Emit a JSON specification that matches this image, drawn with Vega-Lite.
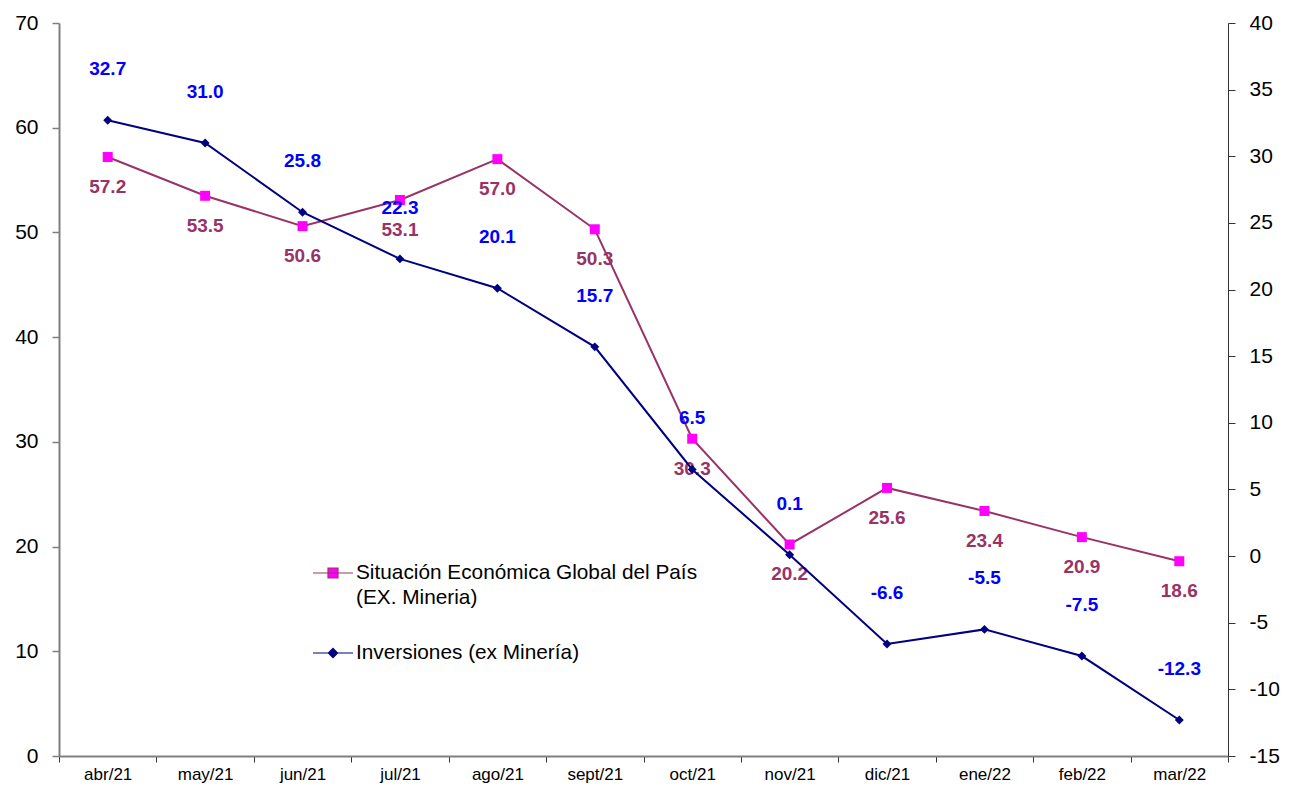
{
  "$schema": "https://vega.github.io/schema/vega-lite/v6.json",
  "width": 1169,
  "height": 733,
  "autosize": {"type": "none"},
  "padding": {"left": 59, "top": 23, "right": 67, "bottom": 33},
  "background": "white",
  "config": {
    "view": {"stroke": null},
    "font": "Liberation Sans",
    "locale": {"number": {"decimal": ".", "thousands": ",", "grouping": [3], "currency": ["$", ""], "minus": "-"}},
    "axis": {"labelFont": "Liberation Sans", "labelColor": "#000000", "title": null, "grid": false}
  },
  "data": {
    "values": [
      {"mes": "abr/21", "sit": 57.2, "inv": 32.7},
      {"mes": "may/21", "sit": 53.5, "inv": 31.0},
      {"mes": "jun/21", "sit": 50.6, "inv": 25.8},
      {"mes": "jul/21", "sit": 53.1, "inv": 22.3},
      {"mes": "ago/21", "sit": 57.0, "inv": 20.1},
      {"mes": "sept/21", "sit": 50.3, "inv": 15.7},
      {"mes": "oct/21", "sit": 30.3, "inv": 6.5},
      {"mes": "nov/21", "sit": 20.2, "inv": 0.1},
      {"mes": "dic/21", "sit": 25.6, "inv": -6.6},
      {"mes": "ene/22", "sit": 23.4, "inv": -5.5},
      {"mes": "feb/22", "sit": 20.9, "inv": -7.5},
      {"mes": "mar/22", "sit": 18.6, "inv": -12.3}
    ]
  },
  "encoding": {
    "x": {
      "field": "mes",
      "type": "nominal",
      "sort": null,
      "scale": {"paddingInner": 0, "paddingOuter": 0},
      "axis": {
        "tickBand": "extent",
        "labelAngle": 0,
        "labelFontSize": 17,
        "labelPadding": 4,
        "tickSize": 6,
        "tickColor": "#333333",
        "domainColor": "#808080",
        "domainWidth": 2,
        "labelColor": "#000000"
      }
    }
  },
  "layer": [
    {
      "layer": [
        {
          "mark": {"type": "line", "strokeWidth": 2},
          "encoding": {
            "y": {
              "field": "sit",
              "type": "quantitative",
              "scale": {"domain": [0, 70], "nice": false, "zero": false},
              "axis": {
                "orient": "left",
                "values": [0, 10, 20, 30, 40, 50, 60, 70],
                "labelFontSize": 21,
                "tickSize": 7,
                "labelPadding": 14,
                "domainColor": "#808080",
                "domainWidth": 2,
                "tickColor": "#808080",
                "tickWidth": 1.5
              }
            },
            "stroke": {
              "datum": "Situación Económica Global del País (EX. Mineria)",
              "type": "nominal",
              "scale": {
                "domain": ["Situación Económica Global del País (EX. Mineria)", "Inversiones (ex Minería)"],
                "range": ["#993366", "#000080"]
              },
              "legend": {
                "orient": "none",
                "legendX": 253,
                "legendY": 529,
                "title": null,
                "padding": 0,
                "symbolSize": 1600,
                "labelFontSize": 20.8,
                "labelFont": "Liberation Sans",
                "labelColor": "#000000",
                "labelLimit": 0,
                "labelOffset": 2,
                "rowPadding": 24,
                "labelExpr": "datum.label == 'Situación Económica Global del País (EX. Mineria)' ? ['Situación Económica Global del País', '(EX. Mineria)'] : datum.label",
                "encode": {
                  "labels": {"update": {"lineHeight": {"value": 25}}},
                  "symbols": {
                    "update": {
                      "shape": {"signal": "datum.value == 'Inversiones (ex Minería)' ? 'M-1,0H1M0,-0.23L0.23,0L0,0.23L-0.23,0Z' : 'M-1,0H1M-0.25,-0.25H0.25V0.25H-0.25Z'"},
                      "fill": {"signal": "datum.value == 'Inversiones (ex Minería)' ? '#000080' : '#FF00FF'"},
                      "stroke": {"signal": "datum.value == 'Inversiones (ex Minería)' ? '#000080' : '#993366'"},
                      "strokeWidth": {"value": 1.2},
                      "opacity": {"value": 1},
                      "fillOpacity": {"value": 1}
                    }
                  }
                }
              }
            }
          }
        },
        {
          "mark": {"type": "point", "shape": "square", "filled": true, "color": "#FF00FF", "size": 100, "opacity": 1},
          "encoding": {"y": {"field": "sit", "type": "quantitative"}}
        },
        {
          "mark": {"type": "text", "dy": 30, "fontSize": 19, "fontWeight": "bold", "color": "#993366", "font": "Liberation Sans"},
          "encoding": {
            "y": {"field": "sit", "type": "quantitative"},
            "text": {"field": "sit", "type": "quantitative", "format": ".1f"}
          }
        }
      ]
    },
    {
      "layer": [
        {
          "mark": {"type": "line", "strokeWidth": 2},
          "encoding": {
            "y": {
              "field": "inv",
              "type": "quantitative",
              "scale": {"domain": [-15, 40], "nice": false, "zero": false},
              "axis": {
                "orient": "right",
                "values": [-15, -10, -5, 0, 5, 10, 15, 20, 25, 30, 35, 40],
                "labelFontSize": 21,
                "tickSize": 7,
                "labelPadding": 14,
                "domainColor": "#333333",
                "domainWidth": 1,
                "tickColor": "#333333",
                "tickWidth": 1
              }
            },
            "stroke": {"datum": "Inversiones (ex Minería)", "type": "nominal"}
          }
        },
        {
          "mark": {"type": "point", "shape": "diamond", "filled": true, "color": "#000080", "size": 80, "opacity": 1},
          "encoding": {"y": {"field": "inv", "type": "quantitative"}}
        },
        {
          "mark": {"type": "text", "dy": -51, "fontSize": 19, "fontWeight": "bold", "color": "#0000FF", "font": "Liberation Sans"},
          "encoding": {
            "y": {"field": "inv", "type": "quantitative"},
            "text": {"field": "inv", "type": "quantitative", "format": ".1f"}
          }
        }
      ]
    }
  ],
  "resolve": {"scale": {"y": "independent"}}
}
